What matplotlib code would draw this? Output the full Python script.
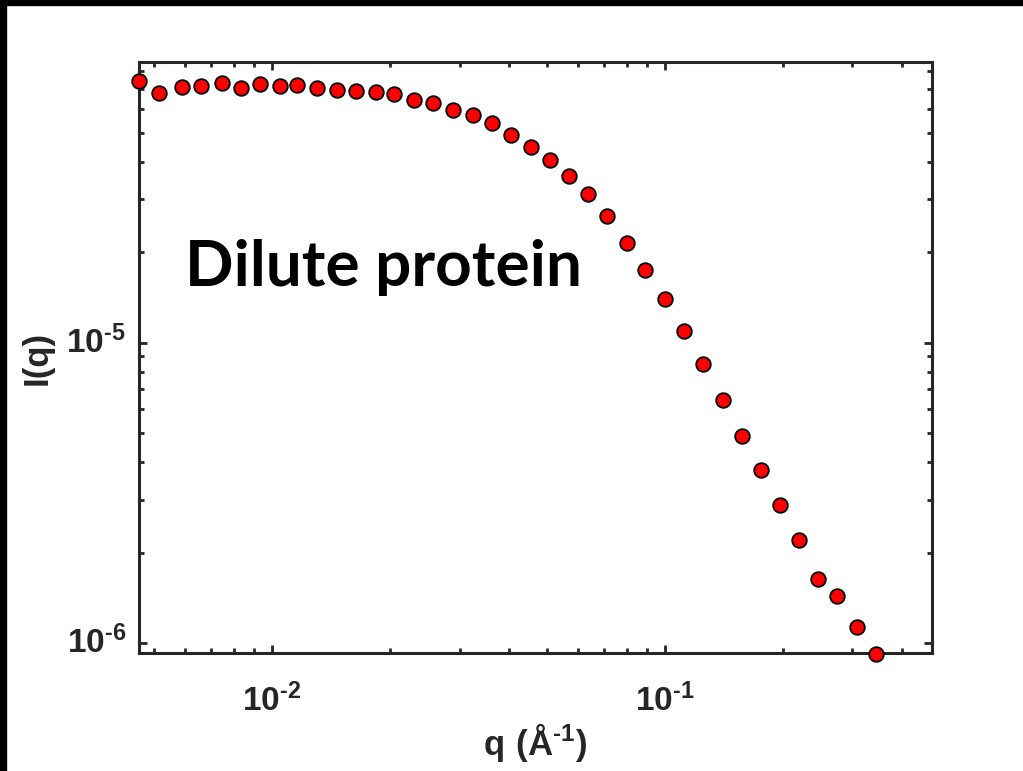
import numpy as np
import matplotlib
matplotlib.use('Agg')
import matplotlib.pyplot as plt
from matplotlib.patches import Rectangle
from matplotlib.ticker import LogLocator, NullFormatter

# scattering data
q = [0.004587, 0.005167, 0.005891, 0.006584, 0.007447, 0.008325, 0.009322,
     0.01048, 0.01160, 0.01304, 0.01461, 0.01636, 0.01836, 0.02048, 0.02298,
     0.02573, 0.02893, 0.03241, 0.03622, 0.04057, 0.04553, 0.05097, 0.05708,
     0.06379, 0.07133, 0.07989, 0.08895, 0.1000, 0.1118, 0.1252, 0.1402,
     0.1568, 0.1755, 0.1962, 0.2196, 0.2455, 0.2744, 0.3074, 0.3443]
I = [7.413e-5, 6.781e-5, 7.079e-5, 7.133e-5, 7.322e-5, 7.047e-5, 7.267e-5,
     7.133e-5, 7.228e-5, 7.047e-5, 6.918e-5, 6.902e-5, 6.833e-5, 6.730e-5,
     6.406e-5, 6.281e-5, 5.967e-5, 5.711e-5, 5.387e-5, 4.923e-5, 4.480e-5,
     4.064e-5, 3.575e-5, 3.124e-5, 2.630e-5, 2.145e-5, 1.747e-5, 1.398e-5,
     1.096e-5, 8.472e-6, 6.442e-6, 4.887e-6, 3.764e-6, 2.893e-6, 2.200e-6,
     1.631e-6, 1.431e-6, 1.131e-6, 9.219e-7]

xticks = [1e-2, 1e-1]
xticklabels = [r'$\mathbf{10^{\text{-}2}}$', r'$\mathbf{10^{\text{-}1}}$']
yticks = [1e-6, 1e-5]
yticklabels = [r'$\mathbf{10^{\text{-}6}}$', r'$\mathbf{10^{\text{-}5}}$']

plt.rcParams['mathtext.fontset'] = 'custom'
plt.rcParams['mathtext.rm'] = 'Liberation Sans:bold'
plt.rcParams['mathtext.bf'] = 'Liberation Sans:bold'
plt.rcParams['font.family'] = 'Liberation Sans'

axcol = '#262626'

fig = plt.figure(figsize=(10.23, 7.71), dpi=100)
ax = fig.add_axes([0.1354, 0.1527, 0.7756, 0.7671])

ax.plot(q, I, 'o', color='red', markeredgecolor='black', markersize=10.5,
        markeredgewidth=1.3, clip_on=False, zorder=5)

ax.set_xscale('log')
ax.set_yscale('log')
ax.set_xlim(0.004573, 0.4779)
ax.set_ylim(9.26e-7, 8.60e-5)

ax.set_xticks(xticks)
ax.set_xticklabels(xticklabels)
ax.set_yticks(yticks)
ax.set_yticklabels(yticklabels)
ax.xaxis.set_minor_locator(LogLocator(base=10, subs=np.arange(2, 10)))
ax.yaxis.set_minor_locator(LogLocator(base=10, subs=np.arange(2, 10)))
ax.xaxis.set_minor_formatter(NullFormatter())
ax.yaxis.set_minor_formatter(NullFormatter())

ax.tick_params(which='both', direction='in', top=True, right=True,
               color=axcol, labelcolor=axcol, width=2)
ax.tick_params(which='major', length=6, labelsize=24)
ax.tick_params(axis='x', which='major', pad=22)
ax.tick_params(axis='y', which='major', pad=9)
ax.tick_params(which='minor', length=3.5)
for lab in ax.get_yticklabels():
    lab.set_verticalalignment('center')
for s in ax.spines.values():
    s.set_linewidth(2.2)
    s.set_color(axcol)

ax.set_xlabel(r'$\mathbf{q\ (Å^{\text{-}1})}$', fontsize=25, color=axcol,
              labelpad=2)
ax.set_ylabel('I(q)', fontsize=25, fontweight='bold', color=axcol, labelpad=9)

fig.text(185 / 1023, 1 - 286 / 771, 'Dilute protein', fontsize=46,
         fontfamily='Lato', fontweight='bold', color='black', va='baseline')

# black strips along the top and left edges
fig.patches.append(Rectangle((0, 1 - 5 / 771), 1, 5 / 771,
                             transform=fig.transFigure, color='black'))
fig.patches.append(Rectangle((0, 0), 6 / 1023, 1,
                             transform=fig.transFigure, color='black'))

fig.savefig('out.png', dpi=100)
